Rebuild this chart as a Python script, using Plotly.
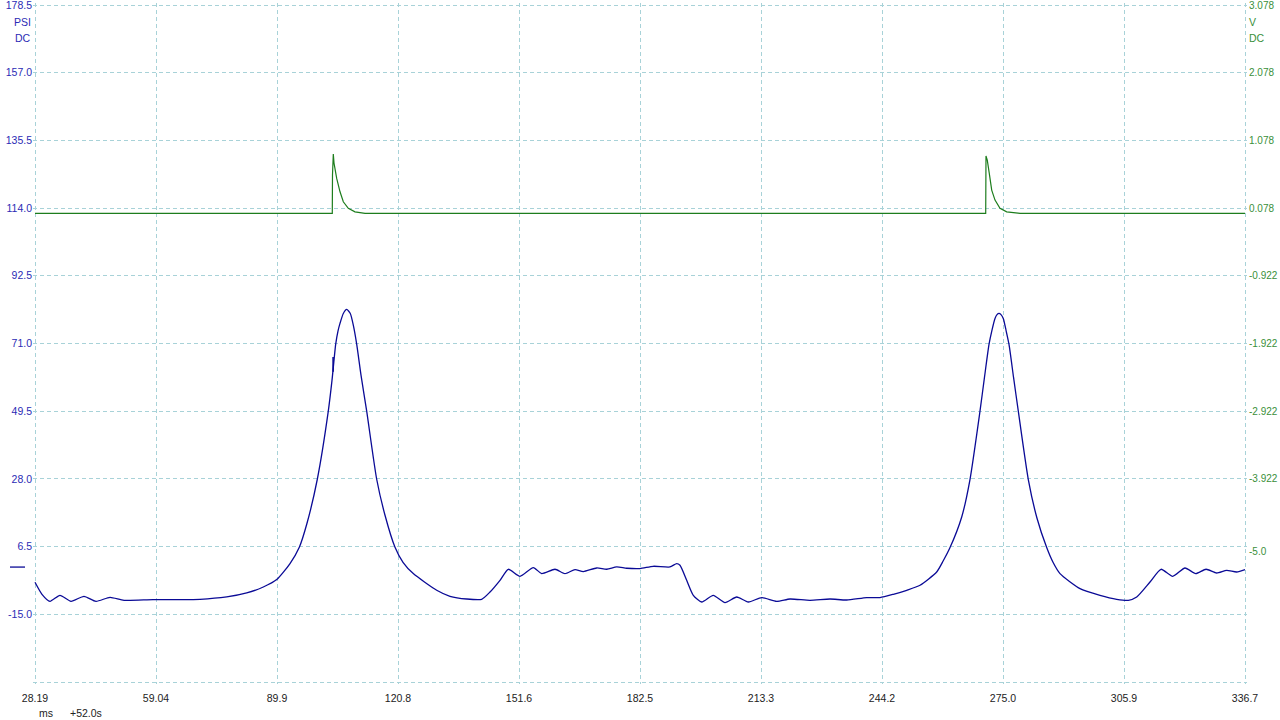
import plotly.graph_objects as go

# ---- Channel A: pressure (PSI), left axis ----
time_a_ms = [28.19, 29.97, 32.01, 34.56, 37.37, 40.68, 43.74, 47.31, 50.88, 58.28,
             70.26, 77.07, 82.17, 86.40, 89.82, 93.21, 95.58, 97.54, 100.17, 102.97,
             103.92, 104.86, 105.44, 105.95, 106.80, 107.66, 108.58, 109.40, 110.21, 111.31,
             112.76, 115.31, 117.43, 119.98, 122.02, 124.64, 130.61, 134.00, 138.26, 142.08,
             144.20, 146.75, 148.87, 151.85, 155.24, 157.38, 160.77, 163.32, 165.87, 167.99,
             171.41, 173.96, 176.50, 179.05, 182.45, 185.84, 190.09, 191.80, 192.64, 194.35,
             196.04, 198.18, 201.13, 204.12, 207.10, 210.06, 213.48, 217.30, 220.69, 225.79,
             230.89, 235.15, 240.25, 243.64, 247.03, 250.45, 253.84, 258.09, 259.70, 261.49,
             264.47, 266.58, 269.13, 270.28, 271.43, 272.19, 272.96, 273.47, 273.98, 274.49,
             275.07, 275.76, 276.53, 277.68,
             278.90, 281.45, 283.67, 286.14, 287.75, 289.53, 294.63, 299.73, 303.99, 306.95,
             309.09, 312.48, 315.28, 318.27, 321.40, 324.13, 326.76, 329.48, 332.03, 334.58,
             336.70]
pressure_psi = [-4.83, -8.65, -10.87, -8.96, -10.87, -9.28, -10.87, -9.60, -10.55, -10.33,
                -10.23, -9.50, -8.23, -6.33, -3.97, 1.11, 6.29, 13.91, 27.89, 49.50,
                59.35, 70.79, 74.92, 77.37, 80.54, 81.81, 80.54, 76.51, 70.79, 60.94,
                49.50, 27.89, 16.46, 6.29, 1.52, -2.07, -7.37, -9.28, -10.14, -10.23,
                -7.92, -4.20, -0.70, -2.93, -0.16, -2.07, -0.70, -2.07, -0.80, -1.43,
                -0.29, -0.70, 0.03, -0.38, -0.48, 0.25, 0.03, 1.11, 0.57, -4.20,
                -8.96, -11.09, -8.96, -11.28, -9.50, -11.09, -9.69, -10.87, -10.14, -10.55,
                -10.14, -10.46, -9.69, -9.69, -8.65, -7.37, -5.78, -1.56, 1.84, 6.19,
                15.92, 27.80, 49.50, 60.30, 70.69, 75.24, 78.95, 80.16, 80.54, 80.16,
                78.95, 75.24, 70.69, 60.30,
                49.50, 27.80, 15.50, 6.19, 1.52, -2.07, -6.83, -8.96, -10.23, -10.55,
                -9.50, -4.74, -0.70, -2.93, -0.29, -2.07, -0.70, -1.88, -1.02, -1.56,
                -0.80]

# small glitch on the rising edge of the first pressure pulse
glitch_time_ms = [104.20, 104.20]
glitch_psi = [62.0, 66.7]

# ---- Channel B: voltage (V), right axis ----
time_b_ms = [28.19, 60.0, 90.0, 103.99, 104.04, 104.25, 104.43, 105.11, 105.96, 106.80,
             108.07, 109.78, 112.33, 150.0, 200.0, 250.0, 270.59, 270.66, 270.99, 271.50,
             272.12, 272.96, 274.23, 275.94, 279.33, 310.0, 336.70]
voltage_v = [0.0, 0.0, 0.0, 0.0, 0.566, 0.876, 0.743, 0.517, 0.319, 0.171,
             0.074, 0.023, 0.0, 0.0, 0.0, 0.0, 0.0, 0.847, 0.787, 0.591,
             0.344, 0.196, 0.074, 0.023, 0.0, 0.0, 0.0]

# ---- Axes ----
x_tick_vals = [28.19, 59.041, 89.892, 120.743, 151.594, 182.445, 213.296, 244.147, 274.998, 305.849, 336.7]
x_tick_text = ["28.19", "59.04", "89.9", "120.8", "151.6", "182.5", "213.3", "244.2", "275.0", "305.9", "336.7"]
x_range = [28.19 - 0.51, 336.7 + 0.51]

psi_tick_vals = [178.5, 157.0, 135.5, 114.0, 92.5, 71.0, 49.5, 28.0, 6.5, -15.0, -36.5]
psi_tick_text = ["178.5", "157.0", "135.5", "114.0", "92.5", "71.0", "49.5", "28.0", "6.5", "-15.0", ""]
psi_range = [-36.5 - 0.635, 178.5 + 0.635]

v_tick_vals = [3.078, 2.078, 1.078, 0.078, -0.922, -1.922, -2.922, -3.922, -5.0]
v_tick_text = ["3.078", "2.078", "1.078", "0.078", "-0.922", "-1.922", "-2.922", "-3.922", "-5.0"]
v_range = [-6.922 - 0.02956, 3.078 + 0.02956]

BLUE_LINE = "#0a0a96"
BLUE_TEXT = "#2b2bb5"
GREEN_LINE = "#1d7d1d"
GREEN_TEXT = "#3a8f3a"
GRID = "#a8d2d8"
FONT = "Liberation Sans"

# plot area in pixels: x 33..1247, y 3..684
PLOT_W, PLOT_H = 1214, 681

fig = go.Figure()
fig.add_trace(go.Scatter(x=time_a_ms, y=pressure_psi, mode="lines",
                         line=dict(color=BLUE_LINE, width=1.3, shape="spline", smoothing=0.6),
                         yaxis="y", showlegend=False, hoverinfo="skip"))
fig.add_trace(go.Scatter(x=glitch_time_ms, y=glitch_psi, mode="lines",
                         line=dict(color=BLUE_LINE, width=1.6),
                         yaxis="y", showlegend=False, hoverinfo="skip"))
fig.add_trace(go.Scatter(x=time_b_ms, y=voltage_v, mode="lines",
                         line=dict(color=GREEN_LINE, width=1.2),
                         yaxis="y2", showlegend=False, hoverinfo="skip"))

fig.update_layout(
    width=1280, height=720,
    margin=dict(l=33, r=33, t=3, b=36, autoexpand=False),
    paper_bgcolor="white", plot_bgcolor="white",
    font=dict(family=FONT, size=10.5, color="#222222"),
    xaxis=dict(range=x_range, tickvals=x_tick_vals, ticktext=x_tick_text,
               showgrid=True, gridcolor=GRID, griddash="4px,3px", gridwidth=1,
               zeroline=False, showline=False, ticks="", ticklabelstandoff=6,
               automargin=False, ticklabeloverflow="allow",
               tickfont=dict(family=FONT, size=10.5, color="#222222")),
    yaxis=dict(range=psi_range, tickvals=psi_tick_vals, ticktext=psi_tick_text,
               showgrid=True, gridcolor=GRID, griddash="4px,3px", gridwidth=1,
               zeroline=False, showline=False, ticks="", ticklabelstandoff=0,
               automargin=False, ticklabeloverflow="allow",
               tickfont=dict(family=FONT, size=10.5, color=BLUE_TEXT)),
    yaxis2=dict(range=v_range, tickvals=v_tick_vals, ticktext=v_tick_text,
                overlaying="y", side="right", showgrid=False, zeroline=False,
                showline=False, ticks="", ticklabelstandoff=1, automargin=False,
                ticklabeloverflow="allow",
                tickfont=dict(family=FONT, size=10, color=GREEN_TEXT)),
)

# channel unit / coupling labels
for txt, yp in [("PSI", 22), ("DC", 38)]:
    fig.add_annotation(text=txt, xref="paper", yref="paper", x=0, y=(684 - yp) / PLOT_H,
                       xanchor="right", yanchor="middle", xshift=0, showarrow=False,
                       font=dict(family=FONT, size=10.5, color=BLUE_TEXT))
for txt, yp in [("V", 22), ("DC", 38)]:
    fig.add_annotation(text=txt, xref="paper", yref="paper", x=1, y=(684 - yp) / PLOT_H,
                       xanchor="left", yanchor="middle", xshift=0, showarrow=False,
                       font=dict(family=FONT, size=10.5, color=GREEN_TEXT))

fig.add_annotation(text="ms", xref="paper", yref="paper", x=0, y=(684 - 713) / PLOT_H,
                   xanchor="left", yanchor="middle", xshift=4, showarrow=False,
                   font=dict(family=FONT, size=10.5, color="#222222"))
fig.add_annotation(text="+52.0s", xref="paper", yref="paper", x=0, y=(684 - 713) / PLOT_H,
                   xanchor="left", yanchor="middle", xshift=35, showarrow=False,
                   font=dict(family=FONT, size=10.5, color="#222222"))

# zero-level marker for channel A
fig.add_shape(type="line", xref="paper", yref="y", x0=-23 / PLOT_W, x1=-8 / PLOT_W, y0=0, y1=0,
              line=dict(color=BLUE_LINE, width=1.3))

# remove the browser's default 8px page margin so the 1280x720 figure fills the window
fig.write_html("out.html",
               config={"displayModeBar": False},
               post_script="document.body.style.margin='0';document.body.style.overflow='hidden';")
